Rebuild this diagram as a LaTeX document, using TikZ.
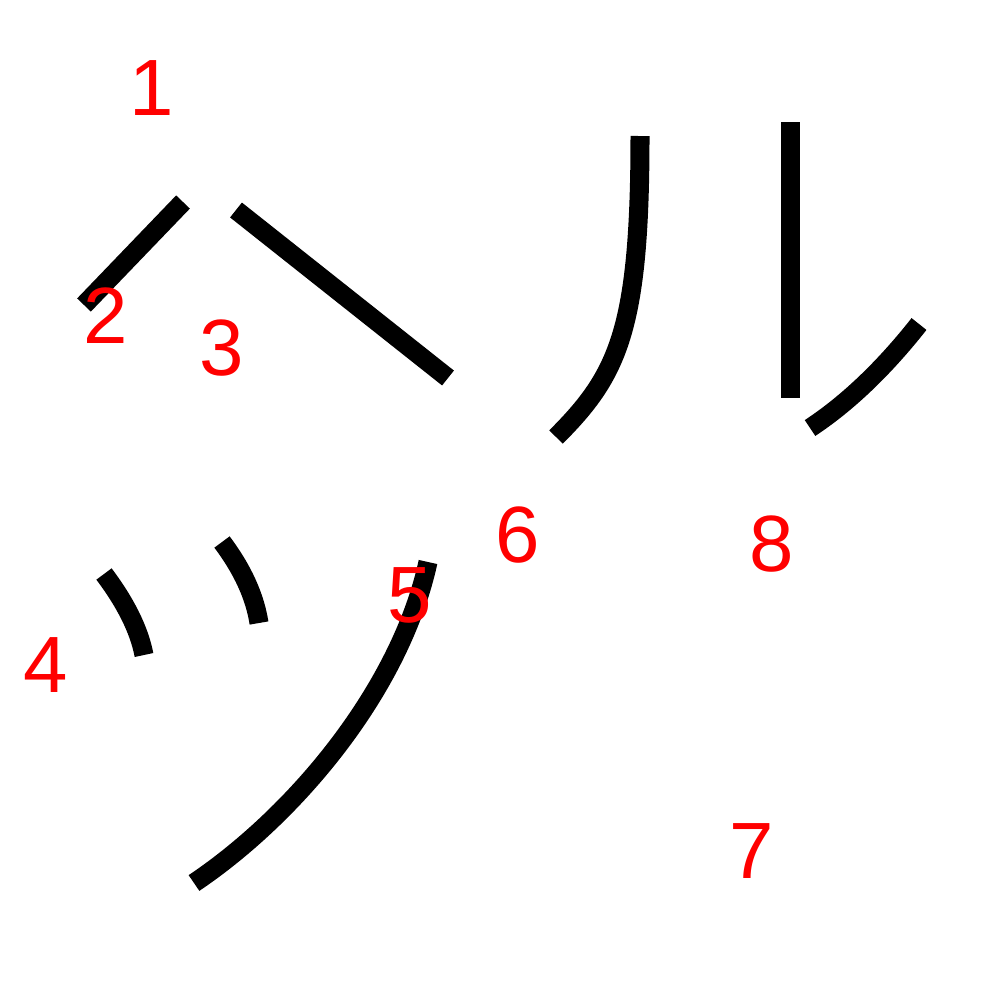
\documentclass[tikz,border=0pt]{standalone}
\usepackage{fontspec}
\setmainfont{Liberation Sans}
\usepackage{tikz}
\usetikzlibrary{positioning}

\begin{document}
\begin{tikzpicture}[x=0.01cm, y=-0.01cm,
    stroke/.style={line width=0.19cm, line cap=butt},
    num/.style={text=red, inner sep=0pt, font=\fontsize{22.7}{24}\selectfont}]
    \useasboundingbox (0,0) rectangle (1000,1000);

    % he
    \draw[stroke] (183,202) -- (84,305);
    \draw[stroke] (236,210) -- (448,378);

    % ru
    \draw[stroke] (640,136) .. controls (640,330) and (618,375) .. (556,437);
    \draw[stroke] (790,122) -- (790,398);
    \draw[stroke] (810,428) .. controls (845,405) and (882,371) .. (919,324);

    % tsu
    \draw[stroke] (104,574) .. controls (125,602) and (139,629) .. (144,655);
    \draw[stroke] (222,542) .. controls (243,570) and (255,597) .. (259,623);
    \draw[stroke] (428,562) .. controls (400,690) and (295,815) .. (194,883);

    \node[num] (n1) at (152,88) {1};
    \node[num] (n2) at (106,316) {2};
    \node[num] (n3) at (222,348) {3};
    \node[num] (n4) at (46,665) {4};
    \node[num] (n5) at (410,595) {5};
    \node[num] (n6) at (518,535) {6};
    \node[num] (n7) at (752,851) {7};
    \node[num] (n8) at (772,544) {8};
\end{tikzpicture}
\end{document}
